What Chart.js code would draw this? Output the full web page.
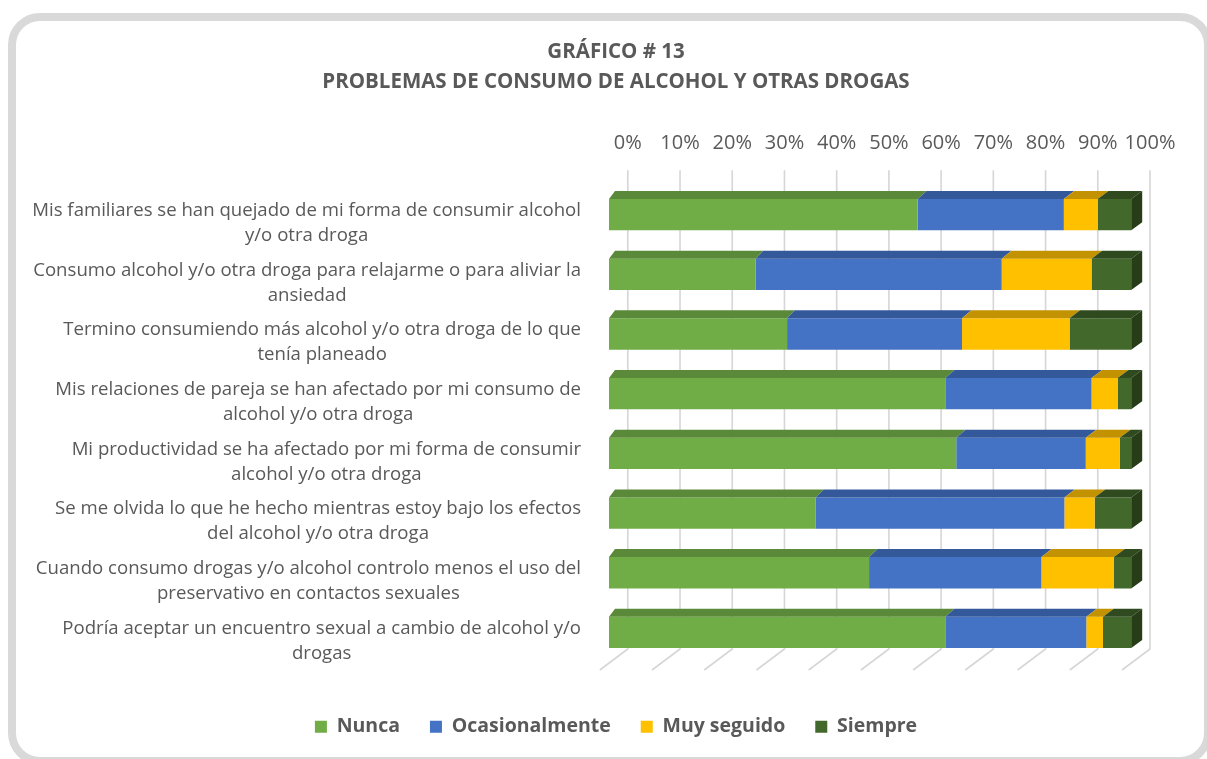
<!DOCTYPE html>
<html>
<head>
<meta charset="utf-8">
<script src="https://cdn.jsdelivr.net/npm/chart.js@4.4.1/dist/chart.umd.min.js"></script>
<style>
    html, body { margin: 0; padding: 0; background: #fff; overflow: hidden; }
    #card { position: absolute; left: 8px; top: 13px; width: 1188px; height: 736px; border: 8px solid #d9d9d9; border-radius: 32px; }
    #wrap { position: absolute; left: 0; top: 0; }
</style>
</head>
<body>
<div id="card"></div>
<div id="wrap"><canvas id="myChart" width="1207" height="759"></canvas></div>
<script>
const categories = [
    ['Mis familiares se han quejado de mi forma de consumir alcohol', 'y/o otra droga'],
    ['Consumo alcohol y/o otra droga para relajarme o para aliviar la', 'ansiedad'],
    ['Termino consumiendo más alcohol y/o otra droga de lo que', 'tenía planeado'],
    ['Mis relaciones de pareja se han afectado por mi consumo de', 'alcohol y/o otra droga'],
    ['Mi productividad se ha afectado por mi forma de consumir', 'alcohol y/o otra droga'],
    ['Se me olvida lo que he hecho mientras estoy bajo los efectos', 'del alcohol y/o otra droga'],
    ['Cuando consumo drogas y/o alcohol controlo menos el uso del', 'preservativo en contactos sexuales'],
    ['Podría aceptar un encuentro sexual a cambio de alcohol y/o', 'drogas']
];

const seriesNames = ['Nunca', 'Ocasionalmente', 'Muy seguido', 'Siempre'];
const nunca = [59.1, 28.1, 34.1, 64.4, 66.5, 39.6, 49.8, 64.4];
const ocasionalmente = [28.0, 47.1, 33.5, 28.0, 24.8, 47.6, 33.0, 27.0];
const muySeguido = [6.5, 17.2, 20.6, 5.0, 6.5, 5.8, 13.9, 3.2];
const siempre = [6.4, 7.6, 11.8, 2.6, 2.2, 7.0, 3.3, 5.4];

const tickValues = [0, 10, 20, 30, 40, 50, 60, 70, 80, 90, 100];

const frontColors = ['#70AD47', '#4472C4', '#FFC000', '#43682B'];
const topColors = ['#5A8A39', '#34599A', '#C29200', '#2F4A1E'];
const sideColor = '#263D18';

// depth of the back wall, in axis units
const wallDepth = 3.6;
const textGrey = '#595959';

Chart.defaults.font.family = "'Open Sans', sans-serif";

// gridlines on the back wall plus the floor lines
const wallGrid = {
    id: 'wallGrid',
    beforeDatasetsDraw(chart) {
        const ctx = chart.ctx;
        const area = chart.chartArea;
        const x2 = chart.scales.x2;
        ctx.save();
        ctx.strokeStyle = '#d6d6d6';
        ctx.lineWidth = 1.6;
        tickValues.forEach(v => {
            const gx = x2.getPixelForValue(v);
            ctx.beginPath();
            ctx.moveTo(gx, area.top - 14.6);
            ctx.lineTo(gx, area.bottom - 13.3);
            ctx.lineTo(gx - 28, area.bottom + 7.7);
            ctx.stroke();
        });
        ctx.restore();
    }
};

// top and side faces to give the bars some depth
const barDepth = {
    id: 'barDepth',
    afterDatasetsDraw(chart) {
        const ctx = chart.ctx;
        const xs = chart.scales.x;
        const x0 = xs.getPixelForValue(0);
        const span = xs.getPixelForValue(100) - x0;
        const dxAt = px => 6 + 5 * (px - x0) / span;
        const dy = 8;
        const last = chart.data.datasets.length - 1;
        ctx.save();
        chart.data.datasets.forEach((ds, d) => {
            chart.getDatasetMeta(d).data.forEach(bar => {
                const p = bar.getProps(['x', 'y', 'base', 'height'], true);
                const top = p.y - p.height / 2;
                const bottom = p.y + p.height / 2;
                ctx.fillStyle = topColors[d];
                ctx.beginPath();
                ctx.moveTo(p.base, top);
                ctx.lineTo(p.x, top);
                ctx.lineTo(p.x + dxAt(p.x), top - dy);
                ctx.lineTo(p.base + dxAt(p.base), top - dy);
                ctx.closePath();
                ctx.fill();
                if (d === last) {
                    ctx.fillStyle = sideColor;
                    ctx.beginPath();
                    ctx.moveTo(p.x, top);
                    ctx.lineTo(p.x + dxAt(p.x), top - dy);
                    ctx.lineTo(p.x + dxAt(p.x), bottom - dy);
                    ctx.lineTo(p.x, bottom);
                    ctx.closePath();
                    ctx.fill();
                }
            });
        });
        ctx.restore();
    }
};

// category labels: each block right aligned, lines centred inside it
const categoryLabels = {
    id: 'categoryLabels',
    afterDraw(chart) {
        const ctx = chart.ctx;
        const ys = chart.scales.y;
        const right = chart.chartArea.left - 28;
        ctx.save();
        ctx.font = "18.6px 'Open Sans', sans-serif";
        ctx.fillStyle = textGrey;
        ctx.textAlign = 'center';
        ctx.textBaseline = 'middle';
        categories.forEach((lines, i) => {
            const blockW = Math.max(...lines.map(l => ctx.measureText(l).width));
            const cx = right - blockW / 2;
            const cy = ys.getPixelForValue(i);
            lines.forEach((line, j) => {
                ctx.fillText(line, cx, cy - 4 + j * 25);
            });
        });
        ctx.restore();
    }
};

const datasets = [nunca, ocasionalmente, muySeguido, siempre].map((values, i) => ({
    label: seriesNames[i],
    data: values,
    backgroundColor: frontColors[i],
    borderWidth: 0,
    barPercentage: 0.525,
    categoryPercentage: 1
}));

const ctx = document.getElementById('myChart').getContext('2d');

new Chart(ctx, {
    type: 'bar',
    data: {
        labels: categories,
        datasets: datasets
    },
    options: {
        indexAxis: 'y',
        responsive: false,
        animation: false,
        layout: {
            padding: { top: 0, left: 82, right: 57, bottom: 12.5 }
        },
        scales: {
            x: {
                stacked: true,
                min: 0,
                max: 100 + wallDepth,
                position: 'bottom',
                grid: { display: false },
                border: { display: false },
                ticks: { display: false },
                afterFit(scale) { scale.height = 24.7; }
            },
            x2: {
                type: 'linear',
                position: 'top',
                min: -wallDepth,
                max: 100,
                grid: { display: false, drawTicks: false },
                border: { display: false },
                afterBuildTicks(scale) {
                    scale.ticks = tickValues.map(v => ({ value: v }));
                },
                ticks: {
                    padding: 29.2,
                    autoSkip: false,
                    maxRotation: 0,
                    minRotation: 0,
                    color: textGrey,
                    font: { size: 20 },
                    callback: v => v + '%'
                }
            },
            y: {
                stacked: true,
                grid: { display: false },
                border: { display: false },
                ticks: { display: false },
                afterFit(scale) { scale.width = 609 - 82; }
            }
        },
        plugins: {
            title: {
                display: true,
                text: ['GRÁFICO # 13', 'PROBLEMAS DE CONSUMO DE ALCOHOL Y OTRAS DROGAS'],
                color: textGrey,
                font: { size: 20.5, weight: 'bold', lineHeight: 30 / 20.5 },
                padding: { top: 37, bottom: 5.4 }
            },
            legend: {
                position: 'bottom',
                labels: {
                    boxWidth: 12,
                    boxHeight: 12,
                    padding: 30,
                    color: textGrey,
                    font: { size: 19.5, weight: 'bold' }
                }
            },
            tooltip: { enabled: false }
        }
    },
    plugins: [wallGrid, barDepth, categoryLabels]
});
</script>
</body>
</html>
